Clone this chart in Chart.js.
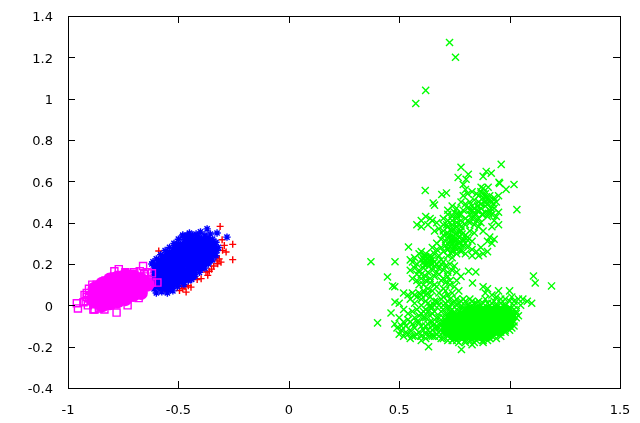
<!DOCTYPE html>
<html>
<head>
<meta charset="utf-8">
<style>
html, body { margin: 0; padding: 0; background: #fff; }
canvas { display: block; }
</style>
<script src="https://cdn.jsdelivr.net/npm/chart.js@4/dist/chart.umd.js"></script>
</head>
<body>
<canvas id="chart" width="640" height="423"></canvas>
<script>
// Values, as [x, y]
const redPoints = [[-0.311,0.382],[-0.302,0.317],[-0.292,0.29],[-0.254,0.295],[-0.254,0.221],[-0.284,0.258],[-0.589,0.263],[-0.3,0.266],[-0.322,0.201],[-0.307,0.209],[-0.33,0.234],[-0.315,0.225],[-0.325,0.215],[-0.367,0.145],[-0.375,0.161],[-0.36,0.165],[-0.397,0.129],[-0.415,0.125],[-0.443,0.124],[-0.48,0.08],[-0.465,0.064],[-0.443,0.088],[-0.495,0.072],[-0.485,0.095],[-0.47,0.09],[-0.455,0.095],[-0.563,0.08],[-0.34,0.19],[-0.35,0.175]];

const bluePoints = [[-0.6,0.06],[-0.575,0.065],[-0.55,0.06],[-0.525,0.07],[-0.61,0.08],[-0.585,0.085],[-0.56,0.08],[-0.535,0.085],[-0.505,0.09],
[-0.61,0.1],[-0.6,0.105],[-0.575,0.1],[-0.55,0.105],[-0.525,0.1],[-0.5,0.105],[-0.475,0.1],[-0.61,0.12],[-0.605,0.125],[-0.58,0.12],[-0.555,0.125],[-0.53,0.12],[-0.505,0.125],[-0.48,0.12],[-0.455,0.12],[-0.44,0.125],
[-0.61,0.14],[-0.605,0.145],[-0.58,0.14],[-0.555,0.145],[-0.53,0.14],[-0.505,0.145],[-0.48,0.14],[-0.455,0.145],[-0.425,0.14],[-0.61,0.16],[-0.605,0.165],[-0.58,0.16],[-0.555,0.165],[-0.53,0.16],[-0.505,0.165],[-0.48,0.16],[-0.455,0.165],[-0.43,0.16],[-0.405,0.16],
[-0.61,0.18],[-0.6,0.185],[-0.575,0.18],[-0.55,0.185],[-0.525,0.18],[-0.5,0.185],[-0.475,0.18],[-0.45,0.185],[-0.425,0.18],[-0.4,0.185],[-0.38,0.18],[-0.62,0.2],[-0.615,0.21],[-0.59,0.205],[-0.565,0.2],[-0.54,0.205],[-0.515,0.2],[-0.49,0.205],[-0.465,0.2],[-0.44,0.205],[-0.415,0.2],[-0.39,0.205],[-0.365,0.2],
[-0.6,0.225],[-0.58,0.245],[-0.56,0.265],[-0.54,0.28],[-0.52,0.3],[-0.5,0.32],[-0.48,0.335],[-0.45,0.35],[-0.42,0.345],
[-0.59,0.22],[-0.565,0.225],[-0.54,0.22],[-0.515,0.225],[-0.49,0.22],[-0.465,0.225],[-0.44,0.22],[-0.415,0.225],[-0.39,0.22],[-0.365,0.225],[-0.345,0.22],[-0.57,0.24],[-0.545,0.245],[-0.52,0.24],[-0.495,0.245],[-0.47,0.24],[-0.445,0.245],[-0.42,0.24],[-0.395,0.245],[-0.37,0.24],[-0.345,0.245],[-0.33,0.24],
[-0.55,0.26],[-0.525,0.265],[-0.5,0.26],[-0.475,0.265],[-0.45,0.26],[-0.425,0.265],[-0.4,0.26],[-0.375,0.265],[-0.35,0.26],[-0.325,0.265],[-0.52,0.28],[-0.495,0.285],[-0.47,0.28],[-0.445,0.285],[-0.42,0.28],[-0.395,0.285],[-0.37,0.28],[-0.345,0.285],[-0.32,0.28],
[-0.5,0.3],[-0.475,0.305],[-0.45,0.3],[-0.425,0.305],[-0.4,0.3],[-0.375,0.305],[-0.35,0.3],[-0.33,0.305],[-0.47,0.32],[-0.445,0.325],[-0.42,0.32],[-0.395,0.325],[-0.37,0.32],[-0.345,0.32],[-0.46,0.34],[-0.435,0.34],[-0.41,0.335],[-0.38,0.34],
[-0.37,0.37],[-0.325,0.35],[-0.28,0.33],[-0.48,0.34],[-0.4,0.355],[-0.355,0.345]];

const blueCore = [[-0.58,0.1],[-0.54,0.09],[-0.59,0.14],[-0.56,0.13],[-0.52,0.12],[-0.48,0.13],[-0.44,0.15],[-0.59,0.18],[-0.56,0.17],[-0.52,0.16],[-0.48,0.16],[-0.44,0.18],[-0.4,0.19],[-0.57,0.21],[-0.53,0.2],[-0.49,0.2],[-0.45,0.21],[-0.41,0.22],[-0.37,0.22],[-0.54,0.24],[-0.5,0.24],[-0.46,0.24],[-0.42,0.25],[-0.38,0.25],[-0.35,0.26],[-0.5,0.28],[-0.46,0.28],[-0.42,0.28],[-0.38,0.29],[-0.35,0.29],[-0.45,0.31],[-0.41,0.31],[-0.37,0.31]];

const magentaPoints = [[-0.96,0.01],[-0.955,-0.015],[-0.93,0.015],[-0.925,0.05],[-0.89,0.1],[-0.905,0.035],[-0.88,-0.02],[-0.78,-0.035],[-0.73,0],[-0.68,0.035],[-0.66,0.19],[-0.77,0.175],[-0.79,0.165],[-0.62,0.11],[-0.595,0.11],[-0.62,0.155],[-0.64,0.16],[-0.65,0.14],[-0.64,0.115],[-0.725,0.15],
[-0.885,-0.02],[-0.86,-0.015],[-0.835,-0.02],[-0.91,0],[-0.885,0.005],[-0.86,0],[-0.835,0.005],[-0.81,0],[-0.785,0.005],[-0.92,0.02],[-0.895,0.025],[-0.87,0.02],[-0.845,0.025],[-0.82,0.02],[-0.795,0.025],[-0.77,0.02],
[-0.915,0.04],[-0.89,0.045],[-0.865,0.04],[-0.84,0.045],[-0.815,0.04],[-0.79,0.045],[-0.765,0.04],[-0.74,0.045],[-0.915,0.06],[-0.89,0.065],[-0.865,0.06],[-0.84,0.065],[-0.815,0.06],[-0.79,0.065],[-0.765,0.06],[-0.74,0.065],[-0.715,0.06],[-0.7,0.065],
[-0.905,0.08],[-0.88,0.085],[-0.855,0.08],[-0.83,0.085],[-0.805,0.08],[-0.78,0.085],[-0.755,0.08],[-0.73,0.085],[-0.705,0.08],[-0.68,0.085],[-0.66,0.08],[-0.87,0.1],[-0.85,0.105],[-0.825,0.1],[-0.8,0.105],[-0.775,0.1],[-0.75,0.105],[-0.725,0.1],[-0.7,0.105],[-0.675,0.1],[-0.65,0.105],
[-0.83,0.12],[-0.805,0.12],[-0.78,0.125],[-0.755,0.12],[-0.73,0.125],[-0.705,0.12],[-0.68,0.125],[-0.655,0.12],[-0.79,0.14],[-0.775,0.14],[-0.75,0.145],[-0.725,0.14],[-0.7,0.145],[-0.675,0.14],[-0.655,0.15],[-0.74,0.16],[-0.7,0.16],[-0.675,0.165]];

const magentaCore = [[-0.88,0.02],[-0.88,0.05],[-0.88,0.08],[-0.845,0],[-0.845,0.02],[-0.845,0.05],[-0.845,0.08],[-0.845,0.105],[-0.81,0.01],[-0.81,0.04],[-0.81,0.07],[-0.81,0.1],[-0.81,0.125],[-0.775,0.02],[-0.775,0.05],[-0.775,0.08],[-0.775,0.11],[-0.775,0.135],[-0.74,0.03],[-0.74,0.06],[-0.74,0.09],[-0.74,0.12],[-0.74,0.145],[-0.705,0.05],[-0.705,0.08],[-0.705,0.11],[-0.705,0.14],[-0.67,0.06],[-0.67,0.09],[-0.67,0.125],[-0.64,0.1]];

const greenPoints = [[0.728,1.272],[0.755,1.2],[0.62,1.04],[0.575,0.977],[0.962,0.682],[0.78,0.668],[0.813,0.634],[0.894,0.648],[0.88,0.624],[0.917,0.639],[0.767,0.619],[0.803,0.61],[0.952,0.595],[0.955,0.59],[0.79,0.585],[1.02,0.585],[0.871,0.571],[0.88,0.565],[0.903,0.571],[0.984,0.561],[0.618,0.556],[0.693,0.536],[0.714,0.544],[0.654,0.495],[0.66,0.485],[1.033,0.463],
[0.372,0.211],[0.481,0.211],[0.447,0.137],[0.47,0.094],[0.48,0.09],[0.402,-0.085],[1.19,0.094],[1.108,0.142],[1.116,0.108],[0.832,0.108],[0.847,0.161],[0.814,0.165],[0.542,0.282],[0.481,0.016],[0.463,-0.037],[0.633,-0.2],[0.782,-0.214],
[0.8,0.56],[0.81,0.54],[0.79,0.53],[0.83,0.55],[0.85,0.54],[0.87,0.55],[0.89,0.54],[0.91,0.53],[0.93,0.52],[0.95,0.53],[0.94,0.5],[0.92,0.5],[0.9,0.51],[0.88,0.52],[0.86,0.5],[0.84,0.51],[0.82,0.5],[0.8,0.49],[0.78,0.5],[0.76,0.47],[0.74,0.48],[0.72,0.46],[0.75,0.45],[0.77,0.44],[0.79,0.46],[0.81,0.47],[0.83,0.48],[0.85,0.46],[0.87,0.47],[0.89,0.48],[0.91,0.46],[0.93,0.47],[0.95,0.45],[0.94,0.43],[0.92,0.44],[0.9,0.43],[0.88,0.44],[0.86,0.42],[0.84,0.43],[0.82,0.44],[0.8,0.42],[0.78,0.41],[0.76,0.42],[0.74,0.43],[0.72,0.41],[0.7,0.42],[0.7,0.39],[0.72,0.38],[0.74,0.39],[0.76,0.4],[0.78,0.38],[0.8,0.39],[0.82,0.4],[0.84,0.39],[0.86,0.38],[0.93,0.41],[0.95,0.39],[0.92,0.38],[0.88,0.36],[0.91,0.33],[0.93,0.32],[0.92,0.3],[0.9,0.31],
[0.6,0.41],[0.62,0.43],[0.64,0.42],[0.58,0.39],[0.6,0.38],[0.63,0.39],[0.65,0.41],[0.67,0.4],[0.68,0.37],[0.66,0.36],[0.7,0.36],[0.72,0.35],[0.74,0.36],[0.76,0.35],[0.78,0.36],[0.8,0.34],[0.82,0.36],[0.84,0.35],[0.73,0.33],[0.75,0.32],[0.77,0.33],[0.79,0.32],[0.81,0.33],[0.83,0.31],[0.71,0.31],[0.69,0.32],[0.67,0.3],[0.71,0.29],[0.73,0.3],[0.75,0.29],[0.77,0.3],[0.79,0.29],[0.81,0.28],[0.69,0.28],[0.67,0.27],[0.65,0.28],[0.7,0.26],[0.72,0.27],[0.74,0.26],[0.76,0.27],[0.78,0.26],[0.83,0.27],[0.85,0.26],[0.87,0.28],[0.88,0.25],[0.9,0.26],[0.86,0.24],[0.83,0.24],[0.8,0.25],[0.66,0.25],[0.68,0.24],[0.72,0.24],[0.74,0.23],
[0.59,0.25],[0.6,0.26],[0.61,0.24],[0.62,0.25],[0.63,0.23],[0.64,0.24],[0.65,0.22],[0.6,0.22],[0.61,0.21],[0.63,0.21],[0.64,0.2],[0.66,0.21],[0.55,0.22],[0.56,0.21],[0.57,0.23],[0.58,0.2],[0.55,0.17],[0.57,0.18],[0.59,0.17],[0.61,0.18],[0.67,0.2],[0.69,0.2],[0.71,0.19],[0.73,0.2],[0.75,0.19],[0.68,0.18],[0.7,0.17],[0.72,0.16],[0.74,0.17],[0.76,0.16],[0.65,0.17],[0.63,0.16],[0.66,0.14],[0.68,0.15],[0.7,0.13],[0.72,0.14],[0.78,0.14],[0.76,0.12],[0.56,0.13],[0.58,0.12],[0.6,0.13],[0.62,0.12],[0.59,0.1],[0.61,0.1],[0.64,0.11],[0.71,0.11],[0.73,0.1],[0.75,0.09],[0.7,0.08],[0.67,0.09],[0.65,0.07],[0.68,0.06],[0.77,0.07],[0.74,0.06],[0.72,0.05],
[0.52,0.06],[0.54,0.05],[0.56,0.06],[0.58,0.04],[0.55,0.03],[0.57,0.01],[0.6,0.03],[0.62,0.05],[0.64,0.04],[0.66,0.02],[0.6,0],[0.63,0.01],[0.58,-0.02],[0.61,-0.03],[0.64,-0.01],[0.5,0.01],[0.52,-0.02],[0.54,-0.04],[0.56,-0.03],[0.59,-0.05],[0.62,-0.06],[0.65,-0.04],[0.5,-0.06],[0.52,-0.08],[0.54,-0.07],[0.56,-0.09],[0.58,-0.08],[0.6,-0.1],[0.48,-0.09],[0.49,-0.11],[0.51,-0.12],[0.53,-0.1],[0.55,-0.12],[0.57,-0.11],[0.59,-0.13],[0.61,-0.12],[0.63,-0.09],[0.5,-0.14],[0.52,-0.15],[0.54,-0.14],[0.56,-0.15],[0.58,-0.14],[0.6,-0.15],[0.62,-0.14],[0.64,-0.13],
[0.69,0.03],[0.71,0.01],[0.73,0.03],[0.75,0.02],[0.77,0.01],[0.79,0.03],[0.81,0],[0.83,0.02],[0.85,0.01],[0.87,0],[0.89,0.03],[0.93,0.02],[0.89,0.06],[0.9,0.08],[0.92,0.05],[0.94,0.04],[0.96,0.03],[0.88,0.09],[0.95,0.07],[1,0.07],[1.01,0.04],[1.04,0.03],[1.06,0.03],[1.08,0.02],[1.1,0.01],[1.05,0],[1.02,0],[1.03,-0.03],[1.04,-0.05],[1.01,-0.07],[1.02,-0.1],[0.99,-0.02],[0.97,0],[0.68,0],[0.66,-0.03],[0.67,-0.06],[0.65,-0.08],[0.66,-0.11],[0.65,-0.15],[0.67,-0.14],[0.69,-0.16],[0.72,-0.17],[0.75,-0.16],[0.77,-0.18],[0.8,-0.17],[0.83,-0.19],[0.85,-0.17],[0.88,-0.18],[0.91,-0.16],[0.94,-0.14],[0.96,-0.15],[0.98,-0.12],[1,-0.1],[0.7,-0.02],[0.73,-0.01],[0.76,-0.02],[0.79,-0.01],[0.82,-0.02],[0.85,-0.01],[0.88,-0.02],[0.91,0],[0.94,-0.01]];

// second pass over the crowded parts of the green cloud
const greenDense = [[0.72,0.33],[0.735,0.315],[0.745,0.335],[0.755,0.31],[0.765,0.32],[0.775,0.305],[0.74,0.3],[0.75,0.28],[0.76,0.295],[0.77,0.28],[0.78,0.27],[0.73,0.285],[0.72,0.27],[0.745,0.265],[0.76,0.25],[0.735,0.25],[0.79,0.31],[0.8,0.3],[0.81,0.315],[0.785,0.345],[0.77,0.355],[0.755,0.345],[0.745,0.37],[0.76,0.38],[0.775,0.39],[0.73,0.365],[0.715,0.39],[0.7,0.34],
[0.83,0.46],[0.845,0.445],[0.86,0.455],[0.875,0.44],[0.89,0.45],[0.905,0.445],[0.915,0.47],[0.87,0.49],[0.885,0.5],[0.9,0.49],[0.855,0.48],[0.84,0.47],[0.82,0.46],[0.86,0.53],[0.88,0.54],[0.895,0.525],[0.91,0.51],[0.925,0.49],[0.81,0.41],[0.83,0.42],[0.85,0.41],[0.87,0.4],[0.78,0.44],[0.76,0.44],[0.74,0.41],[0.72,0.44],
[0.61,0.225],[0.62,0.215],[0.63,0.225],[0.64,0.215],[0.625,0.2],[0.615,0.195],[0.635,0.19],[0.65,0.2],[0.62,0.235],[0.645,0.23],[0.66,0.19],[0.69,0.22],[0.7,0.21],[0.67,0.16],[0.69,0.12],[0.66,0.1],[0.63,0.08],[0.58,0.15],[0.6,0.15],[0.62,0.14],[0.64,0.13],[0.73,0.12],[0.71,0.07],
[0.57,0.05],[0.59,0.06],[0.61,0.07],[0.63,0.06],[0.6,0.05],[0.62,0.02],[0.64,0],[0.62,-0.02],[0.6,-0.04],[0.64,-0.05],[0.63,-0.03],[0.65,-0.01],[0.66,0],[0.67,0.02],[0.64,-0.08],[0.62,-0.1],[0.63,-0.12],[0.65,-0.12],[0.66,-0.09],[0.67,-0.11],[0.68,-0.09],[0.68,-0.13],[0.66,-0.15],[0.64,-0.15],[0.62,-0.16],[0.6,-0.17],[0.57,-0.15],[0.55,-0.16],[0.53,-0.13],[0.51,-0.1],[0.55,-0.08],[0.57,-0.06],[0.59,-0.08],[0.61,-0.06],
[0.7,0.04],[0.72,0.02],[0.74,0.01],[0.76,0.03],[0.78,0.02],[0.8,0.02],[0.82,0.03],[0.84,0.01],[0.86,0.02],[0.7,0],[0.72,-0.01],[0.74,-0.02],[0.76,0],[0.78,-0.01],[0.8,-0.02],[0.83,0],[0.86,-0.03],[0.69,-0.03],[0.71,-0.04],[0.73,-0.03],[0.75,-0.04],[0.77,-0.03],[0.79,-0.03],[0.68,-0.06],[0.7,-0.06],[0.69,-0.09],[0.68,-0.11],[0.7,-0.13],[0.68,-0.15],[0.7,-0.16],[0.72,-0.15],[0.74,-0.17],[0.76,-0.17],[0.78,-0.16],[0.8,-0.18],[0.82,-0.17],[0.84,-0.18],[0.86,-0.16],[0.88,-0.17],[0.9,-0.17],[0.92,-0.15],[0.94,-0.16],[0.96,-0.13],[0.98,-0.13],[1,-0.12],[1.01,-0.11],[1.02,-0.08],[1.03,-0.06],[1.03,-0.04],[1.02,-0.02],[1,-0.01],[0.98,0],[0.96,0.01],[0.94,0],[0.92,0.01],[0.9,0.01],[0.88,0.01],[1.02,0.02],[1,0.02],[0.98,0.03],[1.01,-0.04],[0.99,-0.1]];

const greenCore = [[0.82,-0.03],[0.86,-0.03],[0.9,-0.03],[0.94,-0.03],[0.98,-0.03],[0.74,-0.06],[0.78,-0.06],[0.82,-0.06],[0.86,-0.06],[0.9,-0.06],[0.94,-0.06],[0.98,-0.06],[1,-0.06],[0.72,-0.09],[0.76,-0.09],[0.8,-0.09],[0.84,-0.09],[0.88,-0.09],[0.92,-0.09],[0.96,-0.09],[0.99,-0.09],[0.72,-0.12],[0.76,-0.12],[0.8,-0.12],[0.84,-0.12],[0.88,-0.12],[0.92,-0.12],[0.95,-0.115],[0.75,-0.14],[0.79,-0.14],[0.83,-0.14],[0.87,-0.14],[0.9,-0.14]];

const xTicks = [-1, -0.5, 0, 0.5, 1, 1.5];
const yTicks = [-0.4, -0.2, 0, 0.2, 0.4, 0.6, 0.8, 1, 1.2, 1.4];

function toXY(list) {
    return list.map(function(p) { return {x: p[0], y: p[1]}; });
}

function marks(data, style, color, radius, order, filled) {
    return {
        data: toXY(data),
        showLine: false,
        pointStyle: style,
        pointRadius: radius,
        pointBorderWidth: filled ? 0 : 1.4,
        pointBorderColor: color,
        pointBackgroundColor: filled ? color : 'transparent',
        order: order
    };
}

// gnuplot style ticks: pointing inward, on all four sides
const inwardTicks = {
    id: 'inwardTicks',
    afterDatasetsDraw(chart) {
        const ctx = chart.ctx;
        const area = chart.chartArea;
        const len = 7;
        ctx.save();
        ctx.strokeStyle = '#000';
        ctx.lineWidth = 1;
        ctx.beginPath();
        xTicks.forEach(function(v) {
            const px = Math.round(chart.scales.x.getPixelForValue(v)) + 0.5;
            ctx.moveTo(px, area.bottom);
            ctx.lineTo(px, area.bottom - len);
            ctx.moveTo(px, area.top);
            ctx.lineTo(px, area.top + len);
        });
        yTicks.forEach(function(v) {
            const py = Math.round(chart.scales.y.getPixelForValue(v)) + 0.5;
            ctx.moveTo(area.left, py);
            ctx.lineTo(area.left + len, py);
            ctx.moveTo(area.right, py);
            ctx.lineTo(area.right - len, py);
        });
        ctx.stroke();
        ctx.strokeRect(area.left + 0.5, area.top + 0.5, area.right - area.left, area.bottom - area.top);
        ctx.restore();
    }
};

function tickLabel(v) {
    return String(Math.round(v * 10) / 10);
}

new Chart(document.getElementById('chart'), {
    type: 'scatter',
    data: {
        datasets: [
            marks(greenCore, 'circle', '#00ff00', 7, 7, true),
            marks(greenPoints, 'crossRot', '#00ff00', 5, 6, false),
            marks(greenDense, 'crossRot', '#00ff00', 5, 5, false),
            marks(redPoints, 'cross', '#ff0000', 3.5, 4, false),
            marks(bluePoints, 'star', '#0000ff', 3.7, 3, false),
            marks(blueCore, 'circle', '#0000ff', 6, 3, true),
            marks(magentaPoints, 'rect', '#ff00ff', 5, 1, false),
            marks(magentaCore, 'circle', '#ff00ff', 7, 2, true)
        ]
    },
    options: {
        responsive: false,
        animation: false,
        layout: {padding: {top: 16, right: 20, left: 0, bottom: 0}},
        plugins: {legend: {display: false}, tooltip: {enabled: false}},
        scales: {
            x: {
                type: 'linear',
                min: -1,
                max: 1.5,
                afterBuildTicks(scale) { scale.ticks = xTicks.map(function(v) { return {value: v}; }); },
                afterFit(scale) { scale.height = 35; },
                grid: {display: false},
                border: {display: false},
                ticks: {
                    color: '#000',
                    maxRotation: 0,
                    padding: 7,
                    font: {family: 'DejaVu Sans', size: 13},
                    callback: tickLabel
                }
            },
            y: {
                min: -0.4,
                max: 1.4,
                afterBuildTicks(scale) { scale.ticks = yTicks.map(function(v) { return {value: v}; }); },
                afterFit(scale) { scale.width = 68; },
                grid: {display: false},
                border: {display: false},
                ticks: {
                    color: '#000',
                    padding: 7,
                    font: {family: 'DejaVu Sans', size: 13, lineHeight: '4px'},
                    // empty first line nudges the label down to sit on its tick
                    callback: function(v) { return ['', tickLabel(v)]; }
                }
            }
        }
    },
    plugins: [inwardTicks]
});
</script>
</body>
</html>
